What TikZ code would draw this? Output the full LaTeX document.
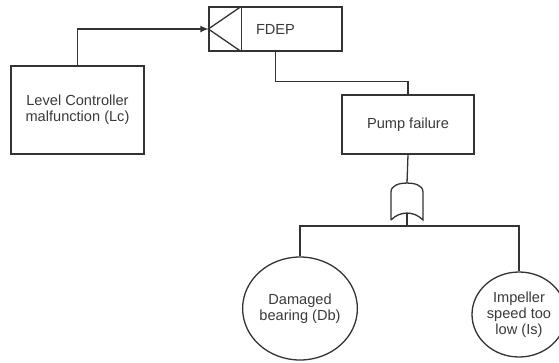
\documentclass[tikz,border=0pt]{standalone}
\usepackage{fontspec}
\setmainfont{Liberation Sans}
\usetikzlibrary{arrows.meta, shapes.geometric, calc}
\definecolor{cline}{HTML}{333333}
\definecolor{ctext}{HTML}{3A3A3A}
\tikzset{
  every picture/.style={line width=1.3pt, draw=cline},
  box/.style={draw=cline, fill=white, align=center, inner sep=0pt, text=ctext,
              font=\fontsize{14.6}{16}\selectfont},
  event/.style={ellipse, draw=cline, fill=white, align=center, inner sep=0pt, text=ctext,
                font=\fontsize{14.6}{16}\selectfont},
  wire/.style={draw=cline, line width=1.3pt},
  arrow/.style={wire, -{Latex[length=8pt, width=7pt]}},
}
\begin{document}
\begin{tikzpicture}[x=1pt, y=-1pt]
  \useasboundingbox (0,0) rectangle (559,362);
  % boxes
  \node[box, minimum width=133pt, minimum height=88pt] (lc) at (77.5,110) {Level Controller\\malfunction (Lc)};
  \node[box, minimum width=133pt, minimum height=44pt] (fdep) at (275.5,29) {FDEP};
  \node[box, minimum width=132pt, minimum height=59pt] (pf) at (408,124.5) {Pump failure};
  % basic events
  \node[event, minimum width=114pt, minimum height=103pt] (db) at (300,308.5) {Damaged\\bearing (Db)};
  \node[event, minimum width=94pt, minimum height=85pt] (is) at (519,314.5) {Impeller\\speed too\\low (Is)};
  % trigger input of the FDEP gate
  \coordinate (ftop) at ($(fdep.north west)+(33,0)$);
  \coordinate (fbot) at ($(fdep.south west)+(33,0)$);
  \draw[wire] (ftop) -- (fbot);
  \draw[wire] (ftop) -- (fdep.west) -- (fbot);
  % gate below pump failure
  \coordinate (gt) at (407,183);
  \coordinate (gb) at (407,213);
  \coordinate (bar) at (407,226);
  \draw[wire, fill=white] (391,220) -- (391,192) .. controls (391,185) and (400,183) .. (gt)
    .. controls (414,183) and (423,185) .. (423,192) -- (423,220)
    .. controls (414,210.7) and (400,210.7) .. (391,220);
  % connectors
  \draw[arrow] (lc.north) |- (fdep.west);
  \draw[wire] (fdep.south) -- ++(0,30) -| (pf.north);
  \draw[wire] (pf.south) -- (gt);
  \draw[wire] (gb) -- (bar);
  \draw[wire] (db.north) |- (bar) -| (is.north);
\end{tikzpicture}
\end{document}
